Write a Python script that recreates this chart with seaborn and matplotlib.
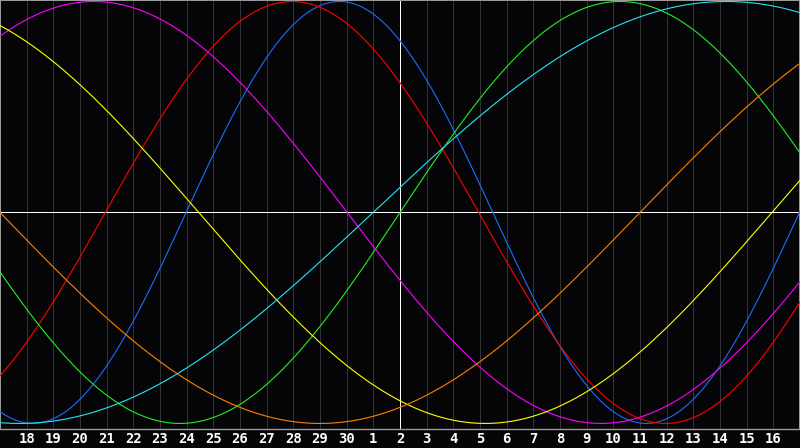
import numpy as np
import pandas as pd
import matplotlib
matplotlib.use("Agg")
import matplotlib.pyplot as plt
import seaborn as sns

# ---- data (biorhythm cycles) ----
cycle_names = ["Physical", "Emotional", "Intellectual", "Intuitive",
               "Aesthetic", "Awareness", "Spiritual"]
cycle_periods = [23, 28, 33, 38, 43, 48, 53]           # days
cycle_peak_day = [12.73, 10.95, 23.25, 3.52, -3.3, -12.0, 27.24]  # peak position, days from left edge
cycle_colors = ["#1a6cff", "#ff0000", "#22ee22", "#ff00ff",
                "#ffff00", "#ff8000", "#22e6f0"]
day_labels = [str(v) for v in list(range(18, 31)) + list(range(1, 17))]
today_index = 15   # Oct 2, white centre line
n_days = 30

# ---- build long table ----
rows = []
d = np.linspace(0, n_days, 1201)
for name, p, pk in zip(cycle_names, cycle_periods, cycle_peak_day):
    vals = np.cos(2 * np.pi * (d - pk) / p)
    rows.append(pd.DataFrame({"day": d, "value": vals, "cycle": name}))
df = pd.concat(rows, ignore_index=True)

sns.set_theme(style="dark")
plt.rcParams["font.family"] = ["DejaVu Sans Mono", "DejaVu Sans"]

fig = plt.figure(figsize=(8, 4.48), dpi=100)
fig.patch.set_facecolor("#050508")
ax = fig.add_axes([0, 19.5 / 448, 1, 428.5 / 448])
ax.set_facecolor("#050508")

# grid lines
for i in range(1, n_days):
    ax.axvline(i, color="#333333", lw=0.6, zorder=1, antialiased=False)
ax.axvline(today_index, color="white", lw=0.6, zorder=2, antialiased=False)
ax.axhline(0, color="white", lw=0.6, zorder=2, antialiased=False)

sns.lineplot(data=df, x="day", y="value", hue="cycle",
             hue_order=cycle_names, palette=cycle_colors,
             linewidth=0.8, legend=False, ax=ax, zorder=3)

ax.set_xlim(0, n_days)
ax.set_ylim(-1.024, 1.007)
ax.set_xticks(range(1, n_days))
ax.set_xticklabels(day_labels)
ax.set_yticks([])
ax.set_xlabel("")
ax.set_ylabel("")
ax.tick_params(axis="x", length=0, pad=2.5, colors="white", labelsize=10)
for lbl in ax.get_xticklabels():
    lbl.set_fontweight("bold")
ax.grid(False)
for side in ["top", "left", "right"]:
    ax.spines[side].set_color("#9a9a9a")
    ax.spines[side].set_linewidth(1.44)
    ax.spines[side].set_visible(True)
ax.spines["bottom"].set_color("#9a9a9a")
ax.spines["bottom"].set_linewidth(1.0)
ax.spines["bottom"].set_visible(True)

fig.savefig("out.png", dpi=100, facecolor=fig.get_facecolor())
